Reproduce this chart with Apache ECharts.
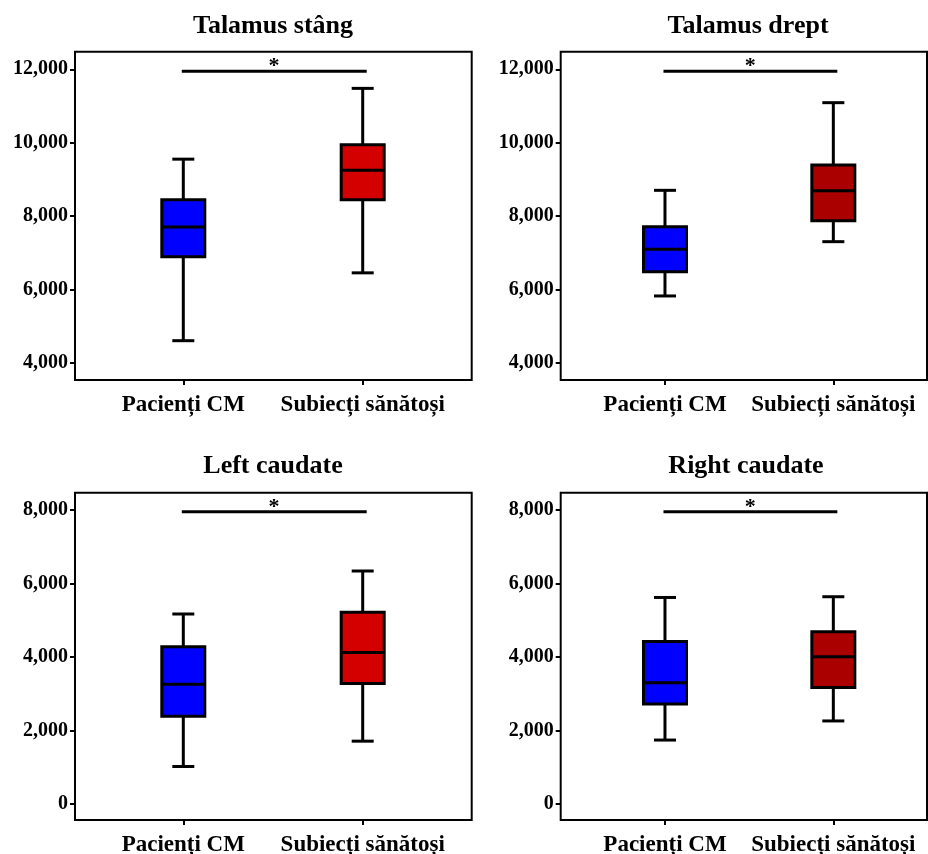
<!DOCTYPE html>
<html>
<head>
<meta charset="utf-8">
<script src="https://cdn.jsdelivr.net/npm/echarts@6/dist/echarts.min.js"></script>
<style>
  html, body { margin: 0; padding: 0; background: #fff; }
  #main { width: 928px; height: 854px; }
</style>
</head>
<body>
<div id="main"></div>
<script>
// categories + titles
var groups = ['Pacienți CM', 'Subiecți sănătoși'];
var titles = ['Talamus stâng', 'Talamus drept', 'Left caudate', 'Right caudate'];

// box values: [min, Q1, median, Q3, max]
var talStangCM = [4600, 6890, 7700, 8440, 9550];
var talStangHC = [6450, 8440, 9250, 9940, 11480];
var talDreptCM = [5820, 6480, 7090, 7710, 8700];
var talDreptHC = [7300, 7870, 8690, 9390, 11090];
var leftCaudCM = [1020, 2390, 3260, 4280, 5170];
var leftCaudHC = [1710, 3280, 4120, 5220, 6340];
var rightCaudCM = [1740, 2720, 3300, 4420, 5620];
var rightCaudHC = [2260, 3170, 4010, 4690, 5640];

// significance bar level per panel
var sigLevel = [11950, 11950, 7950, 7950];
var sigLabel = ['*', '*', '*', '*'];

// axis ranges
var yMin = [4000, 4000, 0, 0];
var yMax = [12000, 12000, 8000, 8000];
var yStep = [2000, 2000, 2000, 2000];

var panelData = [
	[talStangCM, talStangHC],
	[talDreptCM, talDreptHC],
	[leftCaudCM, leftCaudHC],
	[rightCaudCM, rightCaudHC]
];

// layout (pixels) - frame box, inner data grid, title position
var layout = [
	{ frame: [75, 51.7, 396.7, 328.3], grid: [93.6, 69.3, 358.8, 293.4], tx: 273, ty: 13 },
	{ frame: [560.7, 51.7, 366.3, 328.3], grid: [580.8, 69.3, 336.7, 293.4], tx: 748, ty: 13 },
	{ frame: [75, 492.7, 396.7, 327.3], grid: [93.6, 510, 358.8, 294], tx: 273, ty: 453 },
	{ frame: [560.7, 492.7, 366.3, 327.3], grid: [580.8, 510, 336.7, 294], tx: 746, ty: 453 }
];
var boxColors = [
	['#0000ff', '#d40000'],
	['#0000ff', '#aa0000'],
	['#0000ff', '#d40000'],
	['#0000ff', '#aa0000']
];

var FONT = "'Liberation Serif', 'Times New Roman', serif";

function renderBox(params, api) {
	var x = api.value(0);
	var lo = api.coord([x, api.value(1)]);
	var q1 = api.coord([x, api.value(2)]);
	var med = api.coord([x, api.value(3)]);
	var q3 = api.coord([x, api.value(4)]);
	var hi = api.coord([x, api.value(5)]);
	var cx = lo[0];
	var bw = 43, cw = 22;
	var ls = { stroke: '#000', lineWidth: 3 };
	return {
		type: 'group',
		children: [
			{ type: 'line', shape: { x1: cx, y1: hi[1], x2: cx, y2: q3[1] }, style: ls },
			{ type: 'line', shape: { x1: cx, y1: q1[1], x2: cx, y2: lo[1] }, style: ls },
			{ type: 'line', shape: { x1: cx - cw / 2, y1: hi[1], x2: cx + cw / 2, y2: hi[1] }, style: ls },
			{ type: 'line', shape: { x1: cx - cw / 2, y1: lo[1], x2: cx + cw / 2, y2: lo[1] }, style: ls },
			{ type: 'rect', shape: { x: cx - bw / 2, y: q3[1], width: bw, height: q1[1] - q3[1] },
				style: { fill: api.visual('color'), stroke: '#000', lineWidth: 3 } },
			{ type: 'line', shape: { x1: cx - bw / 2, y1: med[1], x2: cx + bw / 2, y2: med[1] }, style: ls }
		]
	};
}

function makeSigRenderer(label) {
	return function (params, api) {
		var a = api.coord([0, api.value(0)]);
		var b = api.coord([1, api.value(0)]);
		return {
			type: 'group',
			children: [
				{ type: 'line', shape: { x1: a[0] - 1.5, y1: a[1], x2: b[0] + 4, y2: b[1] },
					style: { stroke: '#000', lineWidth: 3 } },
				{ type: 'text', x: (a[0] + b[0]) / 2 + 1, y: a[1] + 6,
					style: { text: label, fill: '#000',
						font: 'bold 22px ' + FONT, align: 'center', verticalAlign: 'bottom' } }
			]
		};
	};
}

var grids = [], xAxes = [], yAxes = [], series = [], titleList = [];

for (var p = 0; p < 4; p++) {
	var L = layout[p];
	var fi = grids.length;
	grids.push({
		left: L.frame[0], top: L.frame[1], width: L.frame[2], height: L.frame[3],
		show: true, borderColor: '#000', borderWidth: 2, backgroundColor: 'transparent',
		containLabel: false, outerBoundsMode: 'none'
	});
	xAxes.push({ gridIndex: fi, type: 'value', show: false });
	yAxes.push({ gridIndex: fi, type: 'value', show: false });

	var gi = grids.length;
	grids.push({
		left: L.grid[0], top: L.grid[1], width: L.grid[2], height: L.grid[3],
		containLabel: false, outerBoundsMode: 'none'
	});
	xAxes.push({
		gridIndex: gi, type: 'category', data: groups, position: 'bottom',
		offset: (L.frame[1] + L.frame[3]) - (L.grid[1] + L.grid[3]),
		axisLine: { show: false, onZero: false },
		axisTick: { show: true, interval: 0, alignWithLabel: true, length: 5, lineStyle: { color: '#000', width: 2 } },
		axisLabel: { interval: 0, hideOverlap: false, color: '#000', fontFamily: FONT, fontWeight: 'bold', fontSize: 23, margin: 14 },
		splitLine: { show: false }
	});
	yAxes.push({
		gridIndex: gi, type: 'value', min: yMin[p], max: yMax[p], interval: yStep[p],
		offset: L.grid[0] - L.frame[0],
		axisLine: { show: false, onZero: false },
		axisTick: { show: true, length: 5, lineStyle: { color: '#000', width: 2 } },
		axisLabel: {
			color: '#000', fontFamily: FONT, fontWeight: 'bold', fontSize: 20, margin: 7,
			formatter: function (v) { return v.toLocaleString('en-US'); }
		},
		splitLine: { show: false }
	});

	var boxRows = panelData[p].map(function (d, i) {
		return { value: [i].concat(d), itemStyle: { color: boxColors[p][i] } };
	});
	series.push({
		type: 'custom', xAxisIndex: gi, yAxisIndex: gi,
		renderItem: renderBox, data: boxRows, silent: true
	});
	series.push({
		type: 'custom', xAxisIndex: gi, yAxisIndex: gi,
		renderItem: makeSigRenderer(sigLabel[p]), data: [[sigLevel[p]]], silent: true
	});

	titleList.push({
		text: titles[p], left: L.tx, top: L.ty, textAlign: 'center', padding: 0,
		textStyle: { color: '#000', fontFamily: FONT, fontWeight: 'bold', fontSize: 26 }
	});
}

var myChart = echarts.init(document.getElementById('main'), null, { renderer: 'canvas' });
myChart.setOption({
	animation: false,
	backgroundColor: '#fff',
	title: titleList,
	grid: grids,
	xAxis: xAxes,
	yAxis: yAxes,
	series: series
});
</script>
</body>
</html>
